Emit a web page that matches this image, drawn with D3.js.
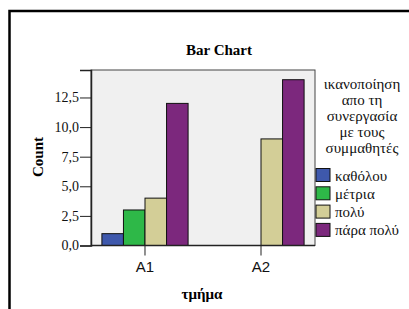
<!DOCTYPE html>
<html>
<head>
<meta charset="utf-8">
<script src="https://cdn.jsdelivr.net/npm/d3@7"></script>
<style>
  body { margin: 0; background: #fff; }
  svg { display: block; }
  .serif { font-family: "Liberation Serif", "Times New Roman", "DejaVu Serif", serif; }
  .sans { font-family: "Liberation Sans", Arial, sans-serif; }
</style>
</head>
<body>
<div id="chart"></div>
<script>
// data
var groups = ["A1", "A2"];
var categories = ["καθόλου", "μέτρια", "πολύ", "πάρα πολύ"];
var countsA1 = [1, 3, 4, 12];
var countsA2 = [0, 0, 9, 14];
var colors = ["#3e58ac", "#2eb848", "#d3ce97", "#7c287d"];
var yTicks = [0, 2.5, 5, 7.5, 10, 12.5];
var legendTitle = ["ικανοποίηση", "απο τη", "συνεργασία", "με τους", "συμμαθητές"];

var seriesByGroup = { "A1": countsA1, "A2": countsA2 };

var svgWidth = 409, svgHeight = 309;
var plot = { left: 91, top: 70, right: 315, bottom: 245.5 };

var svg = d3.select("#chart")
  .append("svg")
  .attr("width", svgWidth)
  .attr("height", svgHeight);

// outer frame (only left and top edges visible)
svg.append("path")
  .attr("d", "M9.5," + svgHeight + "V11H" + svgWidth)
  .attr("fill", "none")
  .attr("stroke", "#000")
  .attr("stroke-width", 2.5);

var x0 = d3.scaleBand()
  .domain(groups)
  .range([plot.left, plot.right])
  .paddingInner(0.257)
  .paddingOuter(0.094);

var x1 = d3.scaleBand()
  .domain(categories)
  .range([0, x0.bandwidth()]);

var y = d3.scaleLinear()
  .domain([0, 14.82])
  .range([plot.bottom, plot.top]);

var color = d3.scaleOrdinal().domain(categories).range(colors);

var comma = d3.formatLocale({ decimal: ",", thousands: ".", grouping: [3], currency: ["", ""] }).format(".1f");

// panel
svg.append("rect")
  .attr("x", plot.left)
  .attr("y", plot.top)
  .attr("width", plot.right - plot.left)
  .attr("height", plot.bottom - plot.top)
  .attr("fill", "#f0f0f0")
  .attr("stroke", "#444")
  .attr("stroke-width", 1);

// bars
var barData = [];
groups.forEach(function(g) {
  seriesByGroup[g].forEach(function(v, i) {
    if (v > 0) barData.push({ group: g, cat: categories[i], value: v });
  });
});

svg.selectAll(".bar")
  .data(barData)
  .enter().append("rect")
  .attr("class", "bar")
  .attr("x", function(d) { return x0(d.group) + x1(d.cat); })
  .attr("y", function(d) { return y(d.value); })
  .attr("width", x1.bandwidth())
  .attr("height", function(d) { return plot.bottom - y(d.value); })
  .attr("fill", function(d) { return color(d.cat); })
  .attr("stroke", "#111")
  .attr("stroke-width", 1);

// y axis
var yAxis = svg.append("g")
  .attr("transform", "translate(" + plot.left + ",0)")
  .call(d3.axisLeft(y).tickValues(yTicks).tickFormat(comma).tickSize(11).tickPadding(1));
yAxis.attr("font-family", null).attr("font-size", null).attr("class", "serif");
yAxis.select(".domain").attr("stroke", "#222").attr("stroke-width", 1.5);
yAxis.selectAll(".tick line").attr("stroke", "#222");
yAxis.selectAll("text")
  .style("font-size", "14px")
  .attr("fill", "#111");

// x axis
var xAxis = svg.append("g")
  .attr("transform", "translate(0," + plot.bottom + ")")
  .call(d3.axisBottom(x0).tickSize(10).tickPadding(6));
xAxis.attr("font-family", null).attr("font-size", null).attr("class", "sans");
xAxis.select(".domain").remove();
xAxis.append("line")
  .attr("x1", plot.left).attr("x2", plot.right)
  .attr("stroke", "#222").attr("stroke-width", 1.5);
xAxis.selectAll(".tick line").attr("stroke", "#222");
xAxis.selectAll("text")
  .style("font-size", "15px")
  .attr("fill", "#111");

// title
svg.append("text")
  .attr("class", "serif")
  .attr("x", 219)
  .attr("y", 55)
  .attr("text-anchor", "middle")
  .style("font-size", "15px")
  .style("font-weight", "bold")
  .text("Bar Chart");

// axis titles
svg.append("text")
  .attr("class", "serif")
  .attr("transform", "translate(43,157) rotate(-90)")
  .attr("text-anchor", "middle")
  .style("font-size", "15px")
  .style("font-weight", "bold")
  .text("Count");

svg.append("text")
  .attr("class", "serif")
  .attr("x", 202)
  .attr("y", 299)
  .attr("text-anchor", "middle")
  .style("font-size", "15px")
  .style("font-weight", "bold")
  .text("τμήμα");

// legend
var legend = svg.append("g").attr("class", "serif");
legend.selectAll(".ltitle")
  .data(legendTitle)
  .enter().append("text")
  .attr("x", 362)
  .attr("y", function(d, i) { return 89 + i * 16; })
  .attr("text-anchor", "middle")
  .style("font-size", "15px")
  .attr("fill", "#111")
  .text(function(d) { return d; });

var items = legend.selectAll(".item")
  .data(categories)
  .enter().append("g")
  .attr("class", "item")
  .attr("transform", function(d, i) { return "translate(316," + (168.5 + i * 18.3) + ")"; });

items.append("rect")
  .attr("width", 14)
  .attr("height", 13)
  .attr("fill", function(d) { return color(d); })
  .attr("stroke", "#111");

items.append("text")
  .attr("x", 19)
  .attr("y", 12)
  .style("font-size", "15px")
  .attr("fill", "#111")
  .text(function(d) { return d; });
</script>
</body>
</html>
